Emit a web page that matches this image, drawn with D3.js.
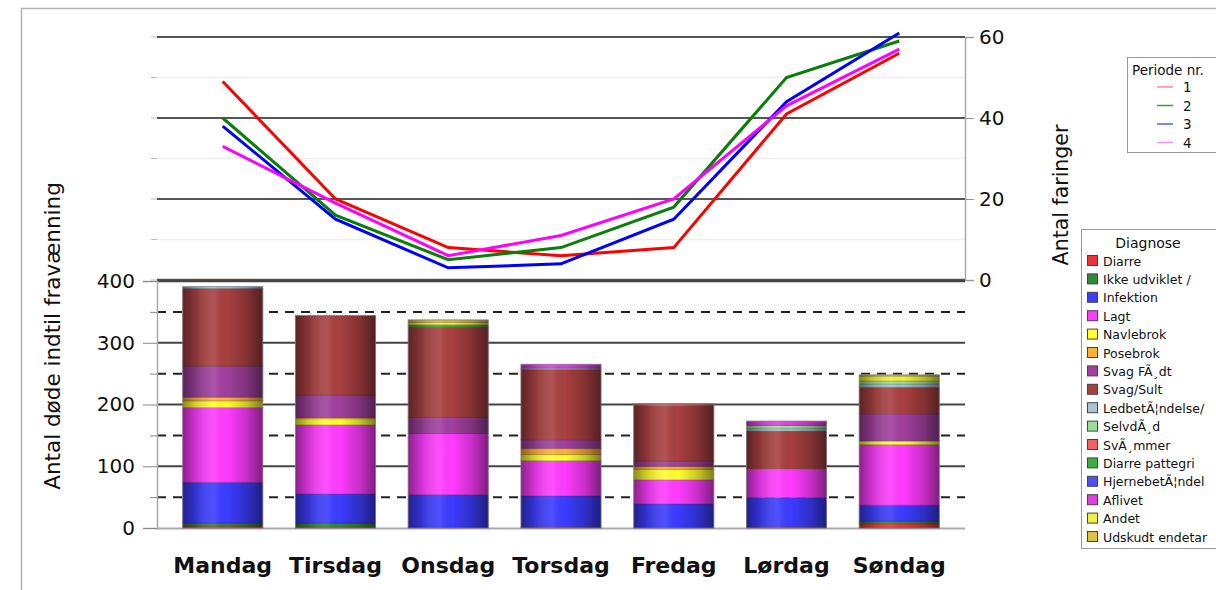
<!DOCTYPE html>
<html>
<head>
<meta charset="utf-8">
<script src="https://cdn.jsdelivr.net/npm/d3@7"></script>
<style>
  body { margin: 0; background: #fff; }
  svg { display: block; font-family: "DejaVu Sans", sans-serif; }
</style>
</head>
<body>
<svg width="1216" height="590"></svg>
<script>
var days = ["Mandag", "Tirsdag", "Onsdag", "Torsdag", "Fredag", "Lørdag", "Søndag"];

// antal faringer pr. periode
var periods = ["1", "2", "3", "4"];
var periode1 = [49, 20, 8, 6, 8, 41, 56];
var periode2 = [40, 16, 5, 8, 18, 50, 59];
var periode3 = [38, 15, 3, 4, 15, 44, 61];
var periode4 = [33, 19, 6, 11, 20, 43, 57];

// antal døde pr. diagnose (same order as legend)
var diagnoses = ["Diarre", "Ikke udviklet /", "Infektion", "Lagt", "Navlebrok", "Posebrok",
  "Svag FÃ¸dt", "Svag/Sult", "LedbetÃ¦ndelse/", "SelvdÃ¸d", "SvÃ¸mmer", "Diarre pattegri",
  "HjernebetÃ¦ndel", "Aflivet", "Andet", "Udskudt endetar"];
var diarre        = [3, 2, 1, 2, 0, 2, 7];
var ikkeUdviklet  = [5, 6, 0, 0, 0, 0, 4];
var infektion     = [66, 47, 53, 50, 39, 47, 26];
var lagt          = [121, 112, 99, 57, 39, 46, 98];
var navlebrok     = [11, 10, 0, 10, 17, 0, 6];
var posebrok      = [6, 2, 0, 10, 5, 1, 0];
var svagFodt      = [50, 36, 26, 14, 8, 0, 44];
var svagSult      = [126, 129, 146, 114, 90, 61, 43];
var ledbet        = [3, 0, 0, 2, 1, 4, 5];
var selvdod       = [0, 0, 0, 0, 0, 5, 5];
var svommer       = [0, 0, 0, 0, 2, 0, 0];
var diarrePatte   = [0, 0, 4, 0, 0, 0, 0];
var hjernebet     = [0, 0, 0, 0, 0, 0, 0];
var aflivet       = [0, 0, 0, 6, 0, 7, 0];
var andet         = [0, 0, 4, 0, 0, 0, 8];
var udskudt       = [0, 0, 4, 0, 0, 0, 2];

var barTicks = [0, 100, 200, 300, 400];
var lineTicks = [0, 20, 40, 60];

var lineColors = ["#ff0000", "#0a7d0a", "#0000ff", "#ff00ff"];
var legendLineColors = ["#ff8c8c", "#3c9a3c", "#5a5aff", "#ff8cff"];
var diagColors = ["#e8343a", "#2e8a2e", "#3c3cff", "#ff3cff", "#ffff30", "#ffb030",
  "#a0409e", "#a84040", "#a8c4d4", "#98e098", "#f06464", "#3cb03c",
  "#5050f0", "#e040e0", "#f0f040", "#e0c040"];

var seriesVals = [diarre, ikkeUdviklet, infektion, lagt, navlebrok, posebrok, svagFodt, svagSult,
  ledbet, selvdod, svommer, diarrePatte, hjernebet, aflivet, andet, udskudt];
var table = days.map(function(d, i) {
  var row = {day: d};
  diagnoses.forEach(function(k, j) { row[k] = seriesVals[j][i]; });
  return row;
});
var lineData = [periode1, periode2, periode3, periode4];

var svg = d3.select("svg");
var left = 157, right = 965;

var x = d3.scalePoint().domain(days).range([left, right]).padding(0.583);
var yBar = d3.scaleLinear().domain([0, 400]).range([528, 281]);
var yLine = d3.scaleLinear().domain([0, 60]).range([280, 37]);
var barW = 80;

// outer frame
svg.append("path").attr("d", "M21.5,590 V8.5 H1216")
  .attr("fill", "none").attr("stroke", "#b4b4b4").attr("stroke-width", 1.5);

var defs = svg.append("defs");
var grad = defs.append("linearGradient").attr("id", "shade")
  .attr("x1", 0).attr("x2", 1).attr("y1", 0).attr("y2", 0);
[[0, "#000", 0.45], [0.15, "#000", 0.2], [0.4, "#fff", 0.1], [0.55, "#000", 0.0],
 [0.8, "#000", 0.22], [1, "#000", 0.5]].forEach(function(s) {
  grad.append("stop").attr("offset", s[0]).attr("stop-color", s[1]).attr("stop-opacity", s[2]);
});

// ---- top panel (lines) ----
var topG = svg.append("g");
d3.range(10, 60, 20).forEach(function(v) {
  topG.append("line").attr("x1", left).attr("x2", right).attr("y1", yLine(v)).attr("y2", yLine(v))
    .attr("stroke", "#eeeeee").attr("stroke-width", 1.5);
});
lineTicks.forEach(function(v) {
  topG.append("line").attr("x1", left).attr("x2", right).attr("y1", yLine(v)).attr("y2", yLine(v))
    .attr("stroke", "#555").attr("stroke-width", v == 0 ? 2.5 : 2);
});
d3.range(0, 61, 10).forEach(function(v) {
  topG.append("line").attr("x1", left - 6).attr("x2", left).attr("y1", yLine(v)).attr("y2", yLine(v))
    .attr("stroke", "#bbb").attr("stroke-width", 1);
});

var rAxis = svg.append("g").attr("transform", "translate(" + right + ",0)")
  .call(d3.axisRight(yLine).tickValues(lineTicks).tickSize(9).tickPadding(5));
rAxis.select(".domain").attr("stroke", "#aaa").attr("stroke-width", 1.5);
rAxis.selectAll(".tick line").attr("stroke", "#999");
rAxis.selectAll("text").attr("font-size", 20).attr("font-family", "DejaVu Sans").attr("fill", "#111");

var line = d3.line().x(function(d, i) { return x(days[i]); }).y(function(d) { return yLine(d); });
lineData.forEach(function(vals, k) {
  topG.append("path").attr("d", line(vals)).attr("fill", "none")
    .attr("stroke", lineColors[k]).attr("stroke-width", 3);
});

// ---- bottom panel (stacked bars) ----
var bot = svg.append("g");
d3.range(50, 400, 100).forEach(function(v) {
  bot.append("line").attr("x1", left).attr("x2", right).attr("y1", yBar(v)).attr("y2", yBar(v))
    .attr("stroke", "#222").attr("stroke-width", 2).attr("stroke-dasharray", "9,7");
});
[100, 200, 300, 400].forEach(function(v) {
  bot.append("line").attr("x1", left).attr("x2", right).attr("y1", yBar(v)).attr("y2", yBar(v))
    .attr("stroke", "#444").attr("stroke-width", v == 400 ? 2.5 : 1.8);
});
bot.append("line").attr("x1", left).attr("x2", right).attr("y1", 528.5).attr("y2", 528.5)
  .attr("stroke", "#aaa").attr("stroke-width", 2);

var stack = d3.stack().keys(diagnoses);
var layers = stack(table);

var bars = bot.append("g");
layers.forEach(function(layer, j) {
  bars.selectAll(null).data(layer.filter(function(d) { return d[1] > d[0]; })).enter()
    .append("rect")
    .attr("x", function(d) { return x(d.data.day) - barW / 2; })
    .attr("y", function(d) { return yBar(d[1]); })
    .attr("width", barW)
    .attr("height", function(d) { return yBar(d[0]) - yBar(d[1]); })
    .attr("fill", diagColors[j])
    .attr("stroke", d3.color(diagColors[j]).darker(1.2))
    .attr("stroke-opacity", 0.5)
    .attr("stroke-width", 1);
});
bars.selectAll(".shade").data(table).enter().append("rect")
  .attr("class", "shade")
  .attr("x", function(d) { return x(d.day) - barW / 2; })
  .attr("y", function(d) { return yBar(d3.sum(diagnoses, function(k) { return d[k]; })); })
  .attr("width", barW)
  .attr("height", function(d) { return yBar(0) - yBar(d3.sum(diagnoses, function(k) { return d[k]; })); })
  .attr("fill", "url(#shade)")
  .attr("stroke", "#8a8a9a").attr("stroke-opacity", 0.6).attr("stroke-width", 1);

var lAxis = svg.append("g").attr("transform", "translate(" + left + ",0)")
  .call(d3.axisLeft(yBar).tickValues(barTicks).tickSize(14).tickPadding(8));
lAxis.select(".domain").attr("stroke", "#aaa").attr("stroke-width", 1.5);
lAxis.selectAll(".tick line").attr("stroke", "#888");
lAxis.selectAll("text").attr("font-size", 20).attr("font-family", "DejaVu Sans").attr("fill", "#111");
svg.append("g").attr("transform", "translate(" + left + ",0)")
  .call(d3.axisLeft(yBar).tickValues([50, 150, 250, 350]).tickSize(7).tickFormat(""))
  .call(function(g) { g.select(".domain").remove(); g.selectAll("line").attr("stroke", "#888"); });

// x labels
svg.append("g").selectAll("text").data(days).enter().append("text")
  .attr("x", function(d) { return x(d); }).attr("y", 573)
  .attr("text-anchor", "middle").attr("font-weight", "bold").attr("font-size", 22)
  .attr("fill", "#111").text(function(d) { return d; });

// axis titles
svg.append("text").attr("transform", "translate(60,336) rotate(-90)")
  .attr("text-anchor", "middle").attr("font-size", 21.5).attr("fill", "#111")
  .text("Antal døde indtil fravænning");
svg.append("text").attr("transform", "translate(1068,195) rotate(-90)")
  .attr("text-anchor", "middle").attr("font-size", 20.5).attr("fill", "#111")
  .text("Antal faringer");

// legend: Periode nr.
var lp = svg.append("g").attr("transform", "translate(1127,57)");
lp.append("rect").attr("x", 0.5).attr("y", 0.5).attr("width", 120).attr("height", 95)
  .attr("fill", "#fff").attr("stroke", "#999");
lp.append("text").attr("x", 5).attr("y", 18).attr("font-size", 13.5).attr("fill", "#111").text("Periode nr.");
periods.forEach(function(p, i) {
  var yy = 30 + i * 18.5;
  lp.append("line").attr("x1", 30).attr("x2", 46).attr("y1", yy).attr("y2", yy)
    .attr("stroke", legendLineColors[i]).attr("stroke-width", 1.5);
  lp.append("text").attr("x", 56).attr("y", yy + 5).attr("font-size", 13.5).attr("fill", "#111").text(p);
});

// legend: Diagnose
var ld = svg.append("g").attr("transform", "translate(1081,229)");
ld.append("rect").attr("x", 0.5).attr("y", 0.5).attr("width", 150).attr("height", 319)
  .attr("fill", "#fff").attr("stroke", "#999");
ld.append("text").attr("x", 67).attr("y", 19).attr("text-anchor", "middle")
  .attr("font-size", 14).attr("fill", "#111").text("Diagnose");
diagnoses.forEach(function(k, i) {
  var yy = 32 + i * 18.4;
  ld.append("rect").attr("x", 6.5).attr("y", yy - 5.5).attr("width", 10).attr("height", 10)
    .attr("fill", diagColors[i]).attr("stroke", "#444").attr("stroke-width", 1);
  ld.append("text").attr("x", 22).attr("y", yy + 4.5).attr("font-size", 12.5).attr("fill", "#111").text(k);
});
</script>
</body>
</html>
